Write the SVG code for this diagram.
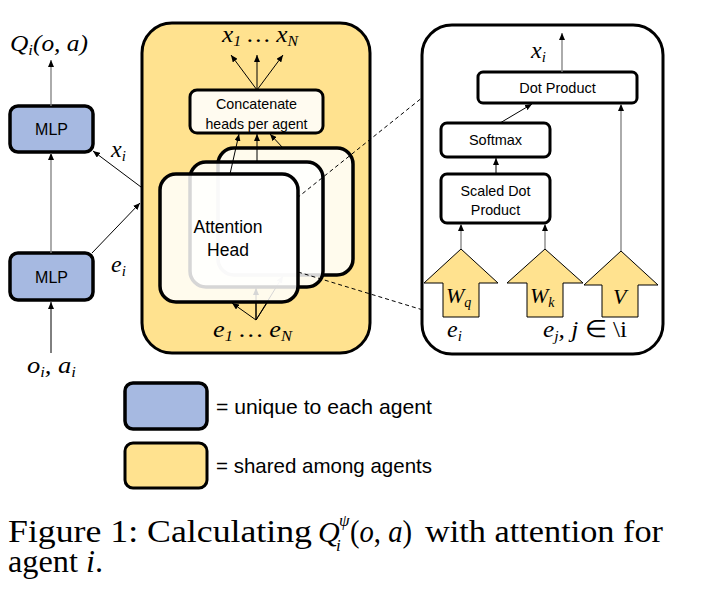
<svg xmlns="http://www.w3.org/2000/svg" width="714" height="610" viewBox="0 0 714 610">
<defs>
<marker id="ah" viewBox="0 0 7 6" refX="7" refY="3" markerWidth="7" markerHeight="6" orient="auto" markerUnits="userSpaceOnUse"><path d="M0,0 L7,3 L0,6 z" fill="#000"/></marker>
<style>
.sans{font-family:"Liberation Sans",Arial,sans-serif;fill:#000}
.m{font-family:"Liberation Serif","Times New Roman",serif;font-style:italic;fill:#000}
.cap{font-family:"Liberation Serif","Times New Roman",serif;fill:#000}
.blue{fill:#a6b9e1;stroke:#000;stroke-width:3.5}
.yel{fill:#ffe28f;stroke:#000;stroke-width:3}
.wbox{fill:#fff;stroke:#000;stroke-width:3}
.head{fill:#fff;fill-opacity:0.84;stroke:#000;stroke-width:3.5}
.ln{stroke:#000;stroke-width:1;fill:none}
.gl{stroke:#7f7f7f;stroke-width:1.3;fill:none}
.dash{stroke:#000;stroke-width:1;stroke-dasharray:4 3;fill:none}
.blk{fill:#ffe28f;stroke:#000;stroke-width:1}
</style>
</defs>
<rect width="714" height="610" fill="#fff"/>

<g id="shared-block">
<rect class="yel" x="142" y="23" width="228" height="330" rx="30"/>
</g>
<g id="mlp-top"><rect class="blue" x="10" y="106" width="83" height="46" rx="8"/><text class="sans" x="51.5" y="135" font-size="16" text-anchor="middle">MLP</text></g>
<g id="mlp-bottom"><rect class="blue" x="10" y="253" width="83" height="47" rx="8"/><text class="sans" x="51.5" y="282.5" font-size="16" text-anchor="middle">MLP</text></g>

<g id="concat"><rect x="190" y="90" width="133" height="43" rx="7" fill="#fffbf0" stroke="#000" stroke-width="3"/>
<text class="sans" x="256.5" y="109" font-size="14.3" text-anchor="middle">Concatenate</text>
<text class="sans" x="256.5" y="129" font-size="14.3" text-anchor="middle" textLength="102" lengthAdjust="spacingAndGlyphs">heads per agent</text></g>

<g id="e-in-arrows">
<line class="ln" x1="256" y1="320" x2="283" y2="276" marker-end="url(#ah)"/>
<line class="ln" x1="256" y1="320" x2="256" y2="288" marker-end="url(#ah)"/>
</g>
<g id="head-3"><rect class="head" x="218" y="148" width="135" height="127" rx="16"/></g>
<g id="head-2"><rect class="head" x="190" y="162" width="133" height="125" rx="16"/></g>
<g id="head-1"><rect class="head" x="160" y="174" width="138" height="128" rx="16"/>
<text class="sans" x="228" y="233" font-size="17.5" text-anchor="middle">Attention</text>
<text class="sans" x="228" y="256" font-size="17.5" text-anchor="middle">Head</text></g>

<g id="detail-box"><rect x="422" y="25" width="241" height="329" rx="30" fill="#fff" stroke="#000" stroke-width="3"/></g>
<g id="dot-product"><rect class="wbox" x="478" y="72" width="159" height="31" rx="5"/><text class="sans" x="557.5" y="93" font-size="14.5" text-anchor="middle">Dot Product</text></g>
<g id="softmax"><rect class="wbox" x="441" y="123" width="109" height="34" rx="6"/><text class="sans" x="495.5" y="145" font-size="14.5" text-anchor="middle">Softmax</text></g>
<g id="scaled-dot"><rect class="wbox" x="441" y="174" width="109" height="49" rx="6"/>
<text class="sans" x="495.5" y="196" font-size="14.3" text-anchor="middle">Scaled Dot</text>
<text class="sans" x="495.5" y="215" font-size="14.3" text-anchor="middle">Product</text></g>
<g id="wq"><polygon class="blk" points="461,249 498,283 479,283 479,317 443,317 443,283 424,283"/>
<text class="m" x="446" y="303" font-size="22">W<tspan font-size="14" dy="4">q</tspan></text></g>
<g id="wk"><polygon class="blk" points="545,249 583,283 563,283 563,317 527,317 527,283 507,283"/>
<text class="m" x="530" y="303" font-size="22">W<tspan font-size="14" dy="4">k</tspan></text></g>
<g id="v"><polygon class="blk" points="621,251 658,285 638,285 638,317 602,317 602,285 584,285"/>
<text class="m" x="613" y="304" font-size="22">V</text></g>

<g id="legend-unique"><rect class="blue" x="125" y="383" width="82" height="46" rx="8"/>
<text class="sans" x="216" y="414" font-size="21" textLength="216" lengthAdjust="spacingAndGlyphs">= unique to each agent</text></g>
<g id="legend-shared"><rect class="yel" x="125" y="443" width="82" height="45" rx="8" stroke-width="3.5"/>
<text class="sans" x="216" y="473" font-size="21" textLength="216" lengthAdjust="spacingAndGlyphs">= shared among agents</text></g>

<g id="connectors">
<line class="gl" x1="51" y1="106" x2="51" y2="60" marker-end="url(#ah)"/>
<line class="gl" x1="51" y1="253" x2="51" y2="153" marker-end="url(#ah)"/>
<line class="ln" x1="51" y1="353" x2="51" y2="302" marker-end="url(#ah)"/>
<line class="ln" x1="141" y1="187" x2="93" y2="151" marker-end="url(#ah)"/>
<line class="ln" x1="92" y1="253" x2="140" y2="203" marker-end="url(#ah)"/>
<line class="ln" x1="257" y1="90" x2="231" y2="55" marker-end="url(#ah)"/>
<line class="ln" x1="257" y1="90" x2="257" y2="55" marker-end="url(#ah)"/>
<line class="ln" x1="257" y1="90" x2="283" y2="55" marker-end="url(#ah)"/>
<line class="ln" x1="230" y1="174" x2="239" y2="134" marker-end="url(#ah)"/>
<line class="ln" x1="257" y1="162" x2="257" y2="134" marker-end="url(#ah)"/>
<line class="ln" x1="283" y1="148" x2="270" y2="134" marker-end="url(#ah)"/>
<line class="ln" x1="256" y1="320" x2="232" y2="303" marker-end="url(#ah)"/>
<line class="ln" x1="256" y1="320" x2="256" y2="303"/>
<line class="ln" x1="256" y1="320" x2="267" y2="303"/>
<line class="dash" x1="297" y1="198" x2="423" y2="97"/>
<line class="dash" x1="298" y1="272" x2="423" y2="310"/>
<line class="gl" x1="562" y1="72" x2="562" y2="33" marker-end="url(#ah)"/>
<line class="ln" x1="500" y1="123" x2="532" y2="104" marker-end="url(#ah)"/>
<line class="ln" x1="496" y1="174" x2="496" y2="158" marker-end="url(#ah)"/>
<line class="gl" x1="461" y1="249" x2="461" y2="224" marker-end="url(#ah)"/>
<line class="gl" x1="545" y1="249" x2="545" y2="224" marker-end="url(#ah)"/>
<line class="gl" x1="621" y1="251" x2="621" y2="104" marker-end="url(#ah)"/>
</g>

<g id="math-labels">
<text class="m" x="10" y="51" font-size="23" textLength="78" lengthAdjust="spacingAndGlyphs">Q<tspan font-size="15" dy="4">i</tspan><tspan dy="-4">(o, a)</tspan></text>
<text class="m" x="111" y="157" font-size="24">x<tspan font-size="15" dy="4">i</tspan></text>
<text class="m" x="111" y="272" font-size="24">e<tspan font-size="15" dy="4">i</tspan></text>
<text class="m" x="27" y="373" font-size="24" textLength="49" lengthAdjust="spacingAndGlyphs">o<tspan font-size="15" dy="4">i</tspan><tspan dy="-4">, a</tspan><tspan font-size="15" dy="4">i</tspan></text>
<text class="m" x="222" y="42" font-size="24" textLength="76" lengthAdjust="spacingAndGlyphs">x<tspan font-size="15" dy="4">1</tspan><tspan dy="-4"> … x</tspan><tspan font-size="15" dy="4">N</tspan></text>
<text class="m" x="213" y="337" font-size="24" textLength="79" lengthAdjust="spacingAndGlyphs">e<tspan font-size="15" dy="4">1</tspan><tspan dy="-4"> … e</tspan><tspan font-size="15" dy="4">N</tspan></text>
<text class="m" x="531" y="58" font-size="24">x<tspan font-size="15" dy="4">i</tspan></text>
<text class="m" x="447" y="337" font-size="24">e<tspan font-size="15" dy="4">i</tspan></text>
<text class="m" x="543" y="337" font-size="24" textLength="84" lengthAdjust="spacingAndGlyphs">e<tspan font-size="15" dy="4">j</tspan><tspan dy="-4">, j </tspan><tspan font-style="normal">∈ \i</tspan></text>
</g>

<g id="caption">
<text class="cap" x="8" y="542" font-size="31" textLength="304" lengthAdjust="spacingAndGlyphs">Figure 1: Calculating</text>
<text class="cap" x="318" y="542" font-size="30" font-style="italic">Q<tspan x="339" dy="-16" font-size="17">ψ</tspan><tspan x="336" dy="25" font-size="17">i</tspan></text>
<text class="cap" x="350" y="542" font-size="31" textLength="62" lengthAdjust="spacingAndGlyphs">(<tspan font-style="italic">o</tspan>, <tspan font-style="italic">a</tspan>)</text>
<text class="cap" x="425" y="542" font-size="31" textLength="238" lengthAdjust="spacingAndGlyphs">with attention for</text>
<text class="cap" x="8" y="572" font-size="31" textLength="95" lengthAdjust="spacingAndGlyphs">agent <tspan font-style="italic">i</tspan>.</text>
</g>
</svg>
